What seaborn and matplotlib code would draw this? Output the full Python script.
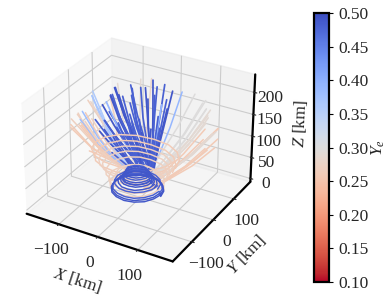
import matplotlib
matplotlib.use("Agg")
import matplotlib.pyplot as plt
import seaborn as sns

# swirl tracks near the base (km), relative to the swirl centre
swirl_x0 = -8
swirl_z0 = 17
ring_x = [
    [60, 55, 42, 23, 0, -23, -42, -55, -60, -55, -42, -23, 0, 23, 42, 55, 60],
    [58, 54, 41, 22, 0, -22, -41, -54, -58, -54, -41, -22, 0, 22, 41, 54, 58],
    [56, 52, 40, 21, 0, -21, -40, -52, -56, -52, -40, -21, 0, 21, 40, 52, 56],
    [50, 46, 35, 19, 0, -19, -35, -46, -50, -46, -35, -19, 0, 19, 35, 46, 50],
    [44, 41, 31, 17, 0, -17, -31, -41, -44, -41, -31, -17, 0, 17, 31, 41, 44],
    [38, 35, 27, 15, 0, -15, -27, -35, -38, -35, -27, -15, 0, 15, 27, 35, 38],
    [36, 33, 25, 14, 0, -14, -25, -33, -36, -33, -25, -14, 0, 14, 25, 33, 36],
    [34, 31, 24, 13, 0, -13, -24, -31, -34, -31, -24, -13, 0, 13, 24, 31, 34],
    [30, 28, 21, 11, 0, -11, -21, -28, -30, -28, -21, -11, 0, 11, 21, 28, 30],
    [28, 26, 20, 11, 0, -11, -20, -26, -28, -26, -20, -11, 0, 11, 20, 26, 28],
    [26, 24, 18, 10, 0, -10, -18, -24, -26, -24, -18, -10, 0, 10, 18, 24, 26],
    [40, 37, 28, 15, 0, -15, -28, -37, -40, -37, -28, -15, 0, 15, 28, 37, 40],
    [32, 30, 23, 12, 0, -12, -23, -30, -32, -30, -23, -12, 0, 12, 23, 30, 32],
    [52, 48, 37, 20, 0, -20, -37, -48, -52, -48, -37, -20, 0, 20, 37, 48, 52],
    [60, 55, 42, 22, -4, -28, -48, -60, -66, -60, -48, -28, -4, 22, 42, 55, 60],
    [66, 60, 46, 24, -6, -32, -54, -68, -74, -68, -54, -32, -6, 24, 46, 60, 66],
    [70, 64, 48, 24, -8, -38, -62, -78, -84, -78, -62, -38, -8, 24, 48, 64, 70],
    [76, 70, 52, 26, -10, -42, -70, -88, -94, -88, -70, -42, -10, 26, 52, 70, 76],
    [84, 76, 56, 26, -14, -50, -80, -98, -104, -98, -80, -50, -14, 26, 56, 76, 84],
    [60, 56, 44, 24, -2, -26, -44, -58, -62, -58, -44, -26, -2, 24, 44, 56, 60],
    [46, 42, 32, 16, -2, -20, -36, -46, -50, -46, -36, -20, -2, 16, 32, 42, 46],
    [90, 82, 62, 30, -10, -52, -88, -110, -116, -108, -84, -50, -10, 30, 60, 80, 88],
]
ring_y = [
    [0, 23, 42, 55, 60, 55, 42, 23, 0, -23, -42, -55, -60, -55, -42, -23, 0],
    [0, 22, 41, 54, 58, 54, 41, 22, 0, -22, -41, -54, -58, -54, -41, -22, 0],
    [0, 21, 40, 52, 56, 52, 40, 21, 0, -21, -40, -52, -56, -52, -40, -21, 0],
    [0, 19, 35, 46, 50, 46, 35, 19, 0, -19, -35, -46, -50, -46, -35, -19, 0],
    [0, 17, 31, 41, 44, 41, 31, 17, 0, -17, -31, -41, -44, -41, -31, -17, 0],
    [0, 15, 27, 35, 38, 35, 27, 15, 0, -15, -27, -35, -38, -35, -27, -15, 0],
    [0, 14, 25, 33, 36, 33, 25, 14, 0, -14, -25, -33, -36, -33, -25, -14, 0],
    [0, 13, 24, 31, 34, 31, 24, 13, 0, -13, -24, -31, -34, -31, -24, -13, 0],
    [0, 11, 21, 28, 30, 28, 21, 11, 0, -11, -21, -28, -30, -28, -21, -11, 0],
    [0, 11, 20, 26, 28, 26, 20, 11, 0, -11, -20, -26, -28, -26, -20, -11, 0],
    [0, 10, 18, 24, 26, 24, 18, 10, 0, -10, -18, -24, -26, -24, -18, -10, 0],
    [0, 15, 28, 37, 40, 37, 28, 15, 0, -15, -28, -37, -40, -37, -28, -15, 0],
    [0, 12, 23, 30, 32, 30, 23, 12, 0, -12, -23, -30, -32, -30, -23, -12, 0],
    [0, 20, 37, 48, 52, 48, 37, 20, 0, -20, -37, -48, -52, -48, -37, -20, 0],
    [0, 24, 44, 58, 62, 58, 44, 24, 0, -24, -44, -58, -62, -58, -44, -24, 0],
    [4, 30, 52, 66, 70, 66, 52, 30, 4, -24, -46, -60, -64, -60, -46, -24, 4],
    [6, 32, 56, 70, 74, 70, 56, 32, 6, -22, -44, -58, -62, -58, -44, -22, 6],
    [8, 36, 60, 76, 80, 76, 60, 36, 8, -22, -46, -62, -66, -62, -46, -22, 8],
    [10, 40, 66, 82, 86, 82, 66, 40, 10, -22, -48, -64, -70, -64, -48, -22, 10],
    [0, 22, 42, 56, 60, 56, 42, 22, 0, -24, -44, -58, -62, -58, -44, -24, 0],
    [2, 20, 36, 46, 50, 46, 36, 20, 2, -16, -32, -42, -46, -42, -32, -16, 2],
    [12, 44, 72, 90, 94, 88, 70, 42, 12, -20, -46, -60, -64, -60, -46, -20, 12],
]
ring_z = [
    [-8, -8, -8, -7, -7, -7, -7, -6, -6, -6, -6, -5, -5, -5, -5, -4, -4],
    [-6, -6, -5, -5, -5, -4, -4, -4, -3, -3, -3, -2, -2, -2, -1, -1, -1],
    [-3, -3, -2, -2, -1, -1, 0, 0, 0, 1, 1, 2, 2, 2, 3, 3, 3],
    [3, 4, 4, 5, 5, 6, 6, 7, 7, 8, 8, 9, 9, 10, 10, 11, 11],
    [8, 8, 9, 9, 10, 10, 11, 11, 12, 12, 13, 13, 14, 14, 15, 15, 16],
    [12, 12, 13, 13, 14, 14, 15, 15, 16, 16, 17, 17, 18, 18, 19, 19, 20],
    [16, 16, 17, 17, 18, 18, 19, 19, 20, 20, 21, 21, 22, 22, 23, 23, 24],
    [20, 20, 21, 21, 22, 22, 23, 23, 24, 24, 25, 25, 26, 26, 27, 27, 28],
    [24, 24, 25, 25, 26, 26, 27, 27, 28, 28, 29, 29, 30, 30, 31, 31, 32],
    [28, 28, 29, 29, 30, 30, 31, 31, 32, 32, 33, 33, 34, 34, 35, 35, 36],
    [32, 32, 33, 33, 34, 34, 35, 35, 36, 36, 37, 37, 38, 38, 39, 39, 40],
    [18, 18, 19, 19, 20, 20, 21, 21, 22, 22, 23, 23, 24, 24, 25, 25, 26],
    [14, 14, 15, 15, 16, 16, 17, 17, 18, 18, 19, 19, 20, 20, 21, 21, 22],
    [7, 7, 8, 8, 9, 9, 10, 10, 11, 11, 12, 12, 13, 13, 14, 14, 15],
    [10, 11, 12, 13, 14, 15, 16, 17, 18, 19, 20, 21, 22, 23, 24, 25, 26],
    [24, 25, 26, 27, 28, 29, 30, 31, 32, 33, 34, 35, 36, 37, 38, 39, 40],
    [34, 35, 36, 37, 38, 39, 40, 41, 42, 43, 44, 45, 46, 47, 48, 49, 50],
    [42, 43, 44, 45, 46, 47, 48, 49, 50, 51, 52, 53, 54, 55, 56, 57, 58],
    [50, 51, 52, 53, 54, 55, 56, 57, 58, 59, 60, 61, 62, 63, 64, 65, 66],
    [-4, -3, -2, -1, 0, 1, 2, 3, 4, 5, 6, 7, 8, 9, 10, 11, 12],
    [18, 19, 20, 21, 22, 23, 24, 25, 26, 27, 28, 29, 30, 31, 32, 33, 34],
    [60, 61, 62, 63, 64, 65, 66, 67, 68, 69, 70, 71, 72, 73, 74, 75, 76],
]
ring_ye = [0.49, 0.49, 0.48, 0.27, 0.49, 0.49, 0.48, 0.49, 0.48, 0.49, 0.48, 0.27, 0.49, 0.48,
           0.27, 0.27, 0.27, 0.27, 0.26, 0.27, 0.27, 0.26]

# peach, grey and pale blue outflow tracks
fan_x = [
    [-150, -110, -60, -10], [-170, -120, -70, -15], [-160, -115, -70, -20], [-145, -100, -60, -15],
    [-135, -95, -55, -10], [-125, -90, -50, -10], [-130, -100, -70, -25], [-175, -135, -100, -40],
    [-120, -90, -80, -30], [-110, -75, -40, 0], [-90, -60, -30, 5], [-140, -105, -70, -20],
    [-128, -100, -75, -20], [-112, -90, -70, -20], [150, 105, 65, 30], [160, 115, 70, 30],
    [155, 110, 65, 25], [145, 100, 60, 20], [140, 100, 60, 25], [130, 90, 55, 20],
    [120, 85, 50, 20], [105, 75, 45, 15], [150, 110, 70, 35], [165, 120, 75, 35],
    [90, 65, 40, 15], [70, 52, 35, 15], [60, 42, 25, 10], [100, 75, 45, 20],
    [142, 100, 60, 25], [136, 95, 58, 22], [125, 88, 52, 20], [112, 80, 48, 18],
    [-135, -95, -60, -15], [-125, -85, -50, -10], [-148, -105, -65, -15], [-128, -92, -55, -12],
    [-100, -72, -45, -10], [-60, -42, -22, 8], [-35, -22, -8, 12], [95, 68, 42, 18],
    [155, 112, 70, 32], [168, 122, 76, 36], [-150, -112, -72, -18], [-165, -118, -72, -20],
    [-138, -104, -70, -22], [-120, -92, -62, -18],
]
fan_y = [
    [-50, -30, -10, 0], [-20, -10, 0, 5], [10, 10, 5, 5], [30, 20, 10, 5],
    [-70, -45, -20, -5], [-30, -20, -10, 0], [10, 8, 5, 2], [20, 10, 5, 0],
    [70, 50, 20, 10], [-40, -20, -10, 0], [-60, -40, -20, -5], [-30, -15, -5, 0],
    [-10, -5, 0, 0], [10, 5, 0, 0], [80, 50, 20, -10], [60, 35, 10, -15],
    [40, 20, 0, -20], [20, 5, -10, -20], [90, 55, 25, -10], [60, 35, 10, -15],
    [100, 65, 30, -5], [110, 70, 30, -5], [30, 15, -5, -20], [50, 30, 5, -15],
    [120, 80, 40, 0], [60, 40, 20, 0], [140, 95, 50, 10], [130, 85, 40, 0],
    [70, 42, 15, -12], [45, 25, 5, -15], [78, 50, 20, -10], [95, 60, 25, -8],
    [20, 14, 8, 2], [0, 0, 0, 0], [-25, -15, -5, 0], [-45, -30, -15, -5],
    [70, 45, 20, 5], [105, 70, 35, 8], [110, 72, 35, 5], [125, 80, 40, 2],
    [10, 0, -10, -20], [30, 15, -2, -18], [-5, -2, 0, 2], [35, 22, 10, 4],
    [-20, -12, -5, 0], [25, 16, 8, 2],
]
fan_z = [
    [145, 95, 62, 45], [120, 80, 58, 42], [115, 78, 60, 45], [125, 85, 65, 48],
    [170, 115, 72, 50], [150, 100, 68, 48], [190, 130, 80, 50], [135, 90, 65, 48],
    [165, 108, 55, 42], [205, 140, 90, 55], [215, 150, 95, 55], [138, 92, 64, 46],
    [72, 66, 58, 44], [68, 62, 55, 42], [155, 102, 62, 32], [165, 110, 68, 34],
    [160, 106, 65, 32], [155, 102, 62, 30], [140, 92, 58, 28], [170, 112, 70, 32],
    [180, 118, 72, 34], [175, 115, 70, 32], [128, 88, 55, 28], [148, 98, 60, 30],
    [180, 120, 75, 40], [225, 150, 90, 42], [185, 125, 80, 42], [145, 96, 60, 30],
    [145, 96, 60, 30], [165, 108, 66, 30], [178, 118, 70, 32], [182, 120, 72, 34],
    [195, 130, 78, 48], [195, 130, 78, 48], [158, 105, 70, 48], [160, 106, 70, 46],
    [200, 135, 88, 55], [205, 140, 90, 52], [210, 145, 92, 52], [185, 122, 78, 38],
    [142, 95, 60, 30], [138, 92, 58, 30], [128, 88, 62, 46], [132, 88, 62, 44],
    [165, 112, 72, 46], [158, 108, 70, 46],
]
fan_ye = [
    0.26, 0.26, 0.26, 0.27, 0.27, 0.27, 0.36, 0.27,
    0.27, 0.27, 0.28, 0.26, 0.26, 0.27, 0.26, 0.26,
    0.26, 0.26, 0.29, 0.29, 0.29, 0.30, 0.26, 0.26,
    0.30, 0.39, 0.30, 0.29, 0.29, 0.26, 0.29, 0.30,
    0.36, 0.37, 0.27, 0.38, 0.29, 0.29, 0.28, 0.30,
    0.26, 0.26, 0.26, 0.26, 0.38, 0.36,
]

# the dark blue bundle, leaning from lower right to upper left
blue_x = [
    [-100, -65, -25, 10], [-90, -55, -15, 15], [-60, -30, 5, 30], [-20, 0, 18, 32],
    [10, 18, 25, 30], [30, 32, 34, 36], [-110, -75, -40, -5], [-80, -50, -15, 10],
    [-50, -25, 5, 32], [-95, -65, -30, 0], [-75, -45, -10, 18], [-85, -55, -25, 2],
    [-65, -38, -5, 22], [-40, -18, 8, 34], [-30, -10, 12, 34], [-10, 5, 20, 35],
    [0, 10, 22, 36], [18, 24, 30, 38], [-115, -80, -45, -10], [-105, -72, -35, 0],
    [-70, -42, -12, 15], [-55, -30, 0, 28], [-45, -22, 5, 30], [-25, -5, 14, 30],
    [-15, 0, 16, 30], [5, 14, 24, 34], [25, 28, 32, 36], [-90, -62, -30, -5],
    [-60, -38, -10, 10], [-78, -55, -30, -5], [-48, -30, -8, 15], [-100, -75, -45, -15],
    [-68, -46, -20, 5], [-35, -18, 5, 26], [-20, -8, 10, 28], [-5, 4, 16, 30],
    [15, 20, 26, 32], [-82, -58, -30, -5], [-55, -36, -14, 8], [-42, -26, -5, 14],
    [-120, -88, -55, -20], [-100, -76, -48, -20], [-70, -52, -30, -8], [-50, -34, -16, 5],
    [-30, -18, -2, 15], [-92, -68, -42, -15], [-62, -44, -24, -2], [8, 14, 20, 28],
]
blue_y = [
    [60, 38, 18, 0], [40, 25, 10, -5], [60, 38, 15, -5], [90, 55, 22, -5],
    [90, 55, 22, -5], [90, 55, 22, -5], [20, 12, 4, -5], [0, 0, -2, -5],
    [40, 25, 10, -5], [30, 18, 6, -5], [50, 30, 12, -5], [15, 8, 2, -5],
    [75, 45, 18, -5], [70, 42, 16, -5], [85, 52, 20, -5], [80, 50, 20, -5],
    [95, 58, 22, -5], [85, 50, 20, -5], [45, 28, 10, -5], [55, 34, 12, -5],
    [25, 15, 5, -5], [55, 34, 12, -5], [30, 18, 6, -5], [65, 40, 15, -5],
    [100, 62, 24, -5], [70, 42, 16, -5], [75, 45, 18, -5], [-5, -5, -5, -5],
    [10, 6, 0, -5], [35, 22, 8, -5], [45, 28, 10, -5], [10, 6, 0, -5],
    [60, 38, 14, -5], [55, 34, 12, -5], [40, 25, 10, -5], [55, 34, 14, -5],
    [60, 36, 14, -5], [-15, -12, -8, -5], [-10, -8, -6, -5], [15, 8, 2, -5],
    [5, 2, 0, -5], [-10, -8, -6, -5], [10, 5, 0, -5], [25, 15, 5, -5],
    [30, 18, 6, -5], [35, 22, 8, -5], [-20, -15, -10, -5], [40, 25, 10, -5],
]
blue_z = [
    [195, 150, 108, 82], [205, 155, 110, 84], [210, 158, 112, 84], [218, 162, 115, 76],
    [215, 160, 112, 76], [205, 155, 110, 76], [170, 135, 105, 82], [170, 135, 105, 84],
    [180, 138, 102, 74], [190, 148, 112, 88], [185, 140, 102, 76], [200, 155, 118, 92],
    [195, 148, 106, 80], [205, 154, 110, 74], [175, 135, 100, 74], [190, 145, 105, 74],
    [165, 128, 96, 74], [185, 142, 104, 74], [165, 132, 102, 80], [180, 142, 108, 84],
    [200, 150, 112, 86], [190, 145, 104, 78], [160, 125, 94, 70], [210, 156, 110, 72],
    [200, 150, 106, 72], [150, 118, 92, 72], [170, 132, 98, 72], [150, 122, 96, 76],
    [160, 128, 96, 76], [130, 108, 88, 72], [135, 108, 85, 68], [120, 100, 82, 68],
    [125, 102, 82, 66], [140, 112, 86, 64], [120, 98, 80, 62], [125, 102, 82, 64],
    [130, 105, 84, 66], [155, 124, 96, 74], [145, 118, 92, 72], [115, 95, 76, 60],
    [140, 114, 90, 68], [125, 104, 84, 66], [110, 92, 74, 58], [100, 84, 68, 52],
    [105, 88, 70, 52], [95, 80, 66, 52], [90, 76, 62, 48], [100, 84, 68, 54],
]
blue_ye = [0.49, 0.49, 0.48, 0.49, 0.48, 0.49, 0.49, 0.48,
           0.48, 0.49, 0.48, 0.49, 0.48, 0.48, 0.49, 0.48,
           0.39, 0.48, 0.39, 0.48, 0.49, 0.48, 0.48, 0.49,
           0.48, 0.48, 0.49, 0.49, 0.48, 0.48, 0.48, 0.49,
           0.48, 0.48, 0.49, 0.49, 0.48, 0.48, 0.48, 0.48,
           0.48, 0.49, 0.48, 0.48, 0.49, 0.49, 0.48, 0.48]

xy_ticks = [-100, 0, 100]
z_ticks = [0, 50, 100, 150, 200]
cbar_ticks = [0.10, 0.15, 0.20, 0.25, 0.30, 0.35, 0.40, 0.45, 0.50]

sns.set_style("white")
plt.rcParams["font.family"] = ["Liberation Serif"]
plt.rcParams["mathtext.fontset"] = "custom"
plt.rcParams["mathtext.rm"] = "Liberation Serif"
plt.rcParams["mathtext.it"] = "Liberation Serif:italic"

cmap = sns.color_palette("coolwarm_r", as_cmap=True)
norm = plt.Normalize(0.10, 0.50)

fig = plt.figure(figsize=(3.91, 3.02), dpi=100)
ax = fig.add_axes([-0.013, 0.08, 0.727, 0.861], projection="3d")

for i in range(len(fan_ye)):
    ax.plot(fan_x[i], fan_y[i], fan_z[i], color=cmap(norm(fan_ye[i])), lw=1.1)
for i in range(len(blue_ye)):
    ax.plot(blue_x[i], blue_y[i], blue_z[i], color=cmap(norm(blue_ye[i])), lw=1.25)
# peach swirl goes over the foot of the bundle, blue swirl on top of that
for i in sorted(range(len(ring_ye)), key=lambda k: ring_ye[k]):
    tx = [v + swirl_x0 for v in ring_x[i]]
    tz = [v + swirl_z0 for v in ring_z[i]]
    ax.plot(tx, ring_y[i], tz, color=cmap(norm(ring_ye[i])), lw=1.05)

ax.set_xlim(-185, 185)
ax.set_ylim(-185, 185)
ax.set_zlim(-8, 240)
ax.set_xticks(xy_ticks)
ax.set_yticks(xy_ticks)
ax.set_zticks(z_ticks)
ax.tick_params(labelsize=12.5, pad=1)
ax.tick_params(axis="z", pad=-1)
ax.set_xlabel("$X$ [km]", fontsize=12.5, labelpad=1)
ax.set_ylabel("$Y$ [km]", fontsize=12.5, labelpad=1)
ax.set_zlabel("$Z$ [km]", fontsize=12.5, labelpad=0)
for axis in (ax.xaxis, ax.yaxis, ax.zaxis):
    axis.line.set_linewidth(1.6)
    axis.line.set_color("black")

cax = fig.add_axes([314 / 391, 1 - 282 / 302, 15 / 391, 269 / 302])
sm = plt.cm.ScalarMappable(norm=norm, cmap=cmap)
cbar = fig.colorbar(sm, cax=cax)
cbar.set_ticks(cbar_ticks)
cbar.set_ticklabels([f"{t:.2f}" for t in cbar_ticks])
cbar.ax.tick_params(labelsize=12.5, length=3, width=0.8, color="black", left=False, right=True)
cbar.outline.set_linewidth(1.6)
cbar.outline.set_edgecolor("black")
cbar.set_label("$Y_e$", fontsize=12.5, labelpad=1)

fig.savefig("out.png", dpi=100)
